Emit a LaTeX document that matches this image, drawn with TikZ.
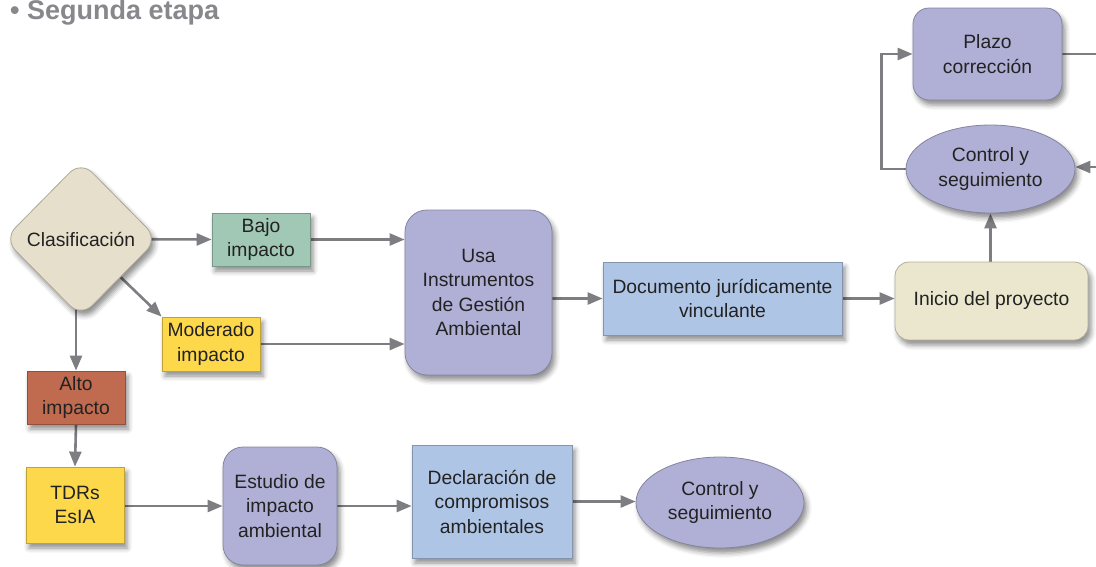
\documentclass[tikz,border=0pt]{standalone}
\usepackage{fontspec}
\setmainfont{Liberation Sans}
\usetikzlibrary{shapes.geometric,arrows.meta,shadows.blur,calc}
\pgfdeclarelayer{background}
\pgfsetlayers{background,main}
\definecolor{arrowgray}{HTML}{7D7D82}
\definecolor{titlegray}{HTML}{87878C}
\definecolor{beigeA}{HTML}{E5DFCB}
\definecolor{beigeB}{HTML}{EBE7CF}
\definecolor{greenA}{HTML}{A1C8B5}
\definecolor{yellowA}{HTML}{FDD84B}
\definecolor{terraA}{HTML}{C06A4F}
\definecolor{purpleA}{HTML}{B0B0D6}
\definecolor{blueA}{HTML}{AFC5E6}
\definecolor{textA}{HTML}{222222}
\tikzset{
  base/.style={inner sep=0pt, align=center, text=textA,
    font=\fontsize{19.3}{24.5}\selectfont,
    blur shadow={shadow xshift=3pt, shadow yshift=-5pt, shadow blur radius=5pt, shadow opacity=45}},
  sqbox/.style={base, rectangle, fill=#1, draw=#1!75!black, line width=0.8pt},
  rbox/.style={base, rectangle, rounded corners=18pt, fill=#1, draw=#1!75!black, line width=0.8pt},
  ebox/.style={base, ellipse, fill=#1, draw=#1!75!black, line width=0.8pt},
  conn/.style={draw=arrowgray, line width=2.6pt},
  arr/.style={conn, -{Triangle[length=15pt,width=12pt]}}
}
\begin{document}
\begin{tikzpicture}[x=1pt,y=-1pt]
\useasboundingbox (0,0) rectangle (1096,566);
\node[anchor=west, text=titlegray, font=\fontsize{27}{30}\selectfont\bfseries, inner sep=0pt] (title) at (10,13) {\textbullet\ Segunda etapa};

\node[base, diamond, rounded corners=16pt, fill=beigeA, draw=beigeA!75!black, line width=0.8pt,
  minimum width=154pt, minimum height=156pt] (clas) at (81,239) {Clasificación};
\node[sqbox=greenA, minimum width=98pt, minimum height=53pt] (bajo) at (261,239.5) {Bajo\\impacto};
\node[sqbox=yellowA, minimum width=98pt, minimum height=54pt] (mod) at (211,344) {Moderado\\impacto};
\node[sqbox=terraA, minimum width=98pt, minimum height=53pt] (alto) at (76,397.5) {Alto\\impacto};
\node[sqbox=yellowA, minimum width=98pt, minimum height=76pt] (tdrs) at (75,505) {TDRs\\EsIA};
\node[rbox=purpleA, rounded corners=22pt, minimum width=147pt, minimum height=165pt] (usa) at (478.5,292.5) {Usa\\Instrumentos\\de Gestión\\Ambiental};
\node[sqbox=blueA, minimum width=239pt, minimum height=73pt] (doc) at (722.5,298.5) {Documento jurídicamente\\vinculante};
\node[rbox=beigeB, rounded corners=14pt, minimum width=193pt, minimum height=78pt] (ini) at (991.5,301) {Inicio del proyecto};
\node[ebox=purpleA, minimum width=169pt, minimum height=88pt] (ctrlA) at (990.5,169) {Control y\\seguimiento};
\node[rbox=purpleA, rounded corners=16pt, minimum width=149pt, minimum height=92pt] (plazo) at (987.5,54) {Plazo\\corrección};
\node[rbox=purpleA, rounded corners=20pt, minimum width=114pt, minimum height=118pt] (est) at (280,506) {Estudio de\\impacto\\ambiental};
\node[sqbox=blueA, minimum width=160pt, minimum height=113pt] (decl) at (492,501.5) {Declaración de\\compromisos\\ambientales};
\node[ebox=purpleA, minimum width=168pt, minimum height=91pt] (ctrlB) at (720,502.5) {Control y\\seguimiento};

\coordinate (outA) at (1096,54);
\coordinate (inA) at (1096,167);

\begin{pgfonlayer}{background}
\draw[arr] (clas.center) -- (bajo.west);
\draw[arr] (clas.center) -- (mod.north west);
\draw[arr] (clas.center -| alto.north) -- (alto.north);
\draw[arr] (alto.south) -- (tdrs.north);
\draw[arr] (bajo.east) -- (usa.west |- bajo.east);
\draw[arr] (mod.east) -- (usa.west |- mod.east);
\draw[arr] (usa.east |- doc.west) -- (doc.west);
\draw[arr] (doc.east) -- (ini.west |- doc.east);
\draw[arr] (ini.north -| ctrlA.south) -- (ctrlA.south);
\draw[arr] (ctrlA.west) -- ++(-24,0) |- (plazo.west);
\draw[conn] (plazo.east) -- (outA);
\draw[arr] (inA) -- (ctrlA.east |- inA);
\draw[arr] (tdrs.east |- est.west) -- (est.west);
\draw[arr] (est.east) -- (decl.west |- est.east);
\draw[arr] (decl.east) -- (ctrlB.west |- decl.east);
\end{pgfonlayer}
\end{tikzpicture}
\end{document}
